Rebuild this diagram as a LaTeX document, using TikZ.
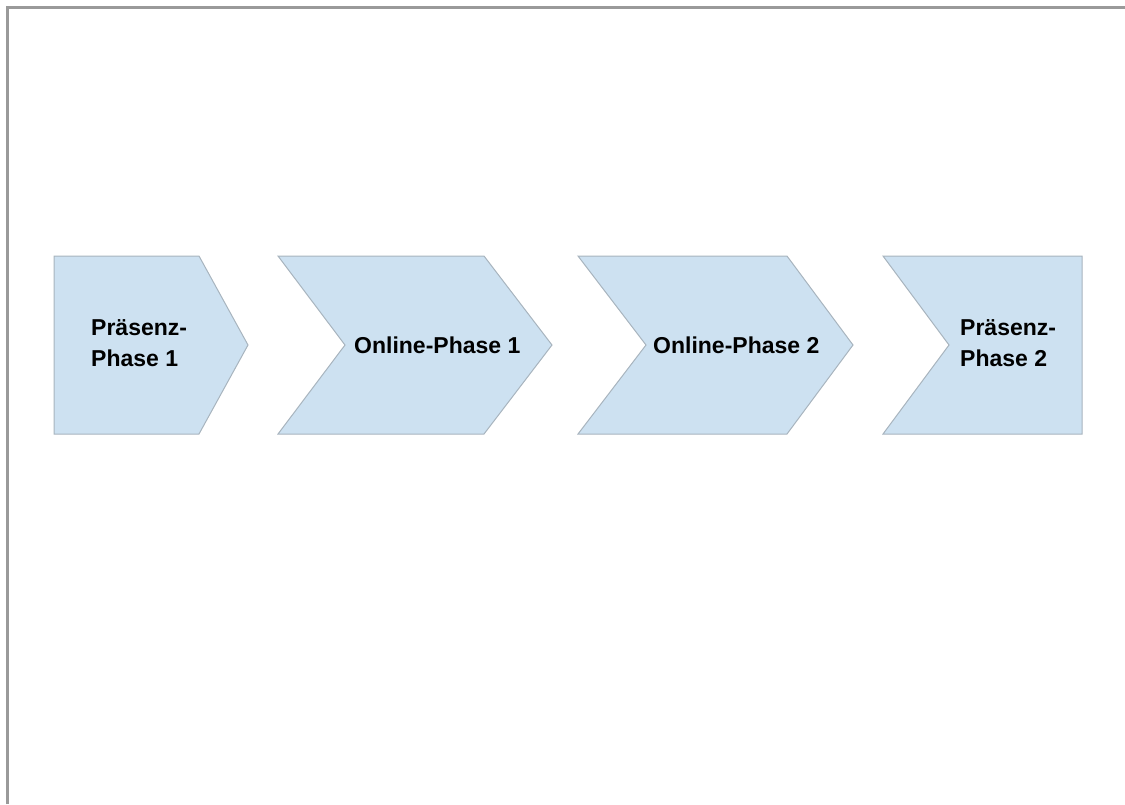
\documentclass[tikz,border=0pt]{standalone}
\usepackage{fontspec}
\setmainfont{Liberation Sans}
\usepackage[svgnames]{xcolor}
\definecolor{PhaseFill}{HTML}{CDE1F1}
\definecolor{PhaseLine}{HTML}{A8B4BE}
\definecolor{FrameGray}{HTML}{9A9A9A}
\begin{document}
\begin{tikzpicture}[x=1pt, y=-1pt,
    phase/.style={fill=PhaseFill, draw=PhaseLine, line width=1pt, line join=miter},
    phasetext/.style={font=\fontsize{23}{31}\selectfont\bfseries, inner sep=0pt, align=left}]
    \useasboundingbox (0,0) rectangle (1125,804);
    \draw[FrameGray, line width=3pt] (7,804) -- (7,7) -- (1125,7); % only top and left edge of the frame
    \draw[phase] (54,256) -- (199,256) -- (248,345) -- (199,434) -- (54,434) -- cycle;
    \draw[phase] (278,256) -- (484,256) -- (552,345) -- (484,434) -- (278,434) -- (345,345) -- cycle;
    \draw[phase] (578,256) -- (787,256) -- (853,345) -- (787,434) -- (578,434) -- (646,345) -- cycle;
    \draw[phase] (883,256) -- (1082,256) -- (1082,434) -- (883,434) -- (949,345) -- cycle;
    \node[phasetext, anchor=west] (praesenz1) at (91,343) {Präsenz-\\Phase 1};
    \node[phasetext, anchor=base west] (online1) at (354,353) {Online-Phase 1};
    \node[phasetext, anchor=base west] (online2) at (653,353) {Online-Phase 2};
    \node[phasetext, anchor=west] (praesenz2) at (960,343) {Präsenz-\\Phase 2};
\end{tikzpicture}
\end{document}
